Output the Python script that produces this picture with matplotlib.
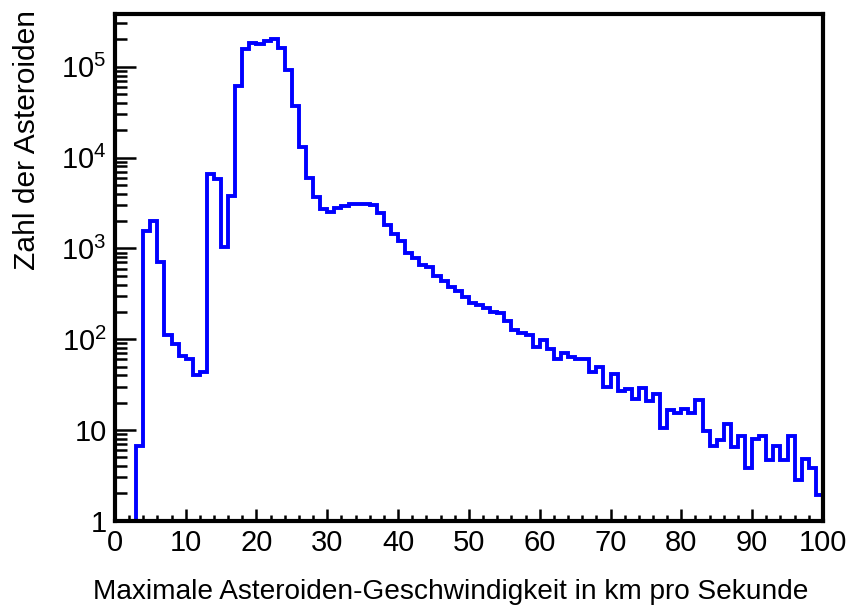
import numpy as np
import matplotlib
matplotlib.use('Agg')
import matplotlib.pyplot as plt
from matplotlib.ticker import FixedLocator, FuncFormatter, LogLocator, NullFormatter

plt.rcParams['font.family'] = ['Liberation Sans', 'DejaVu Sans']

# histogramm: 100 bins zu je 1 km/s
bin_edges = np.arange(0, 101, 1)
counts = [0, 0, 0, 6.6, 1550, 2000, 716, 110, 88, 66,
          60, 40, 43, 6530, 5750, 1030, 3800, 61500, 156000, 183000,
          178000, 191000, 202000, 159000, 91000, 37000, 13200, 5950, 3700, 2700,
          2520, 2800, 2930, 3060, 3090, 3060, 3000, 2440, 1820, 1440,
          1220, 900, 780, 660, 620, 500, 440, 372, 335, 295,
          253, 240, 220, 198, 194, 157, 127, 117, 112, 83,
          97, 78, 60, 70, 64, 61, 60, 44, 50, 30,
          41, 27, 28, 22, 29, 21, 25, 10.4, 16.4, 15.5,
          17.2, 15.5, 21.2, 9.7, 6.6, 7.7, 11.5, 6.5, 8.5, 3.8,
          7.9, 8.5, 4.7, 6.6, 4.7, 8.5, 2.8, 4.8, 3.8, 1.9]

x_ticks = [0, 10, 20, 30, 40, 50, 60, 70, 80, 90, 100]
y_ticks = [1, 10, 100, 1000, 10000, 100000]
y_min, y_max = 1, 3.8e5

fig = plt.figure(figsize=(8.51, 6.12), dpi=100)
ax = fig.add_axes([0.135, 0.149, 0.832, 0.828])

# leere bins liegen auf der unteren achse (wie in ROOT)
c = np.array(counts, dtype=float)
c_draw = np.where(c > 0, c, y_min)
ax.stairs(c_draw, bin_edges, baseline=None, color='#0000ff', linewidth=2.8)

ax.set_yscale('log')
ax.set_xlim(0, 100)
ax.set_ylim(y_min, y_max)

ax.xaxis.set_major_locator(FixedLocator(x_ticks))
ax.xaxis.set_minor_locator(FixedLocator(np.arange(0, 101, 2)))
ax.yaxis.set_major_locator(FixedLocator(y_ticks))
ax.yaxis.set_minor_locator(LogLocator(base=10, subs=np.arange(2, 10), numticks=20))
ax.yaxis.set_minor_formatter(NullFormatter())


def ylab(v, pos):
    if v == 1:
        return '1'
    if v == 10:
        return '10'
    return r'$\mathregular{10^{%d}}$' % int(round(np.log10(v)))


ax.yaxis.set_major_formatter(FuncFormatter(ylab))

for s in ax.spines.values():
    s.set_linewidth(3)

ax.tick_params(which='both', direction='in', top=False, right=False, width=1.8, labelsize=21)
ax.tick_params(axis='x', which='major', length=9, pad=6)
ax.tick_params(axis='x', which='minor', length=4.5)
ax.tick_params(axis='y', which='major', length=15, pad=6)
ax.tick_params(axis='y', which='minor', length=8.5)

ax.set_xlabel('Maximale Asteroiden-Geschwindigkeit in km pro Sekunde', fontsize=20.2, ha='right')
ax.xaxis.set_label_coords(0.979, -0.114)
ax.set_ylabel('Zahl der Asteroiden', fontsize=21.6, ha='right')
ax.yaxis.set_label_coords(-0.104, 1.008)

fig.savefig('out.png', dpi=100)
